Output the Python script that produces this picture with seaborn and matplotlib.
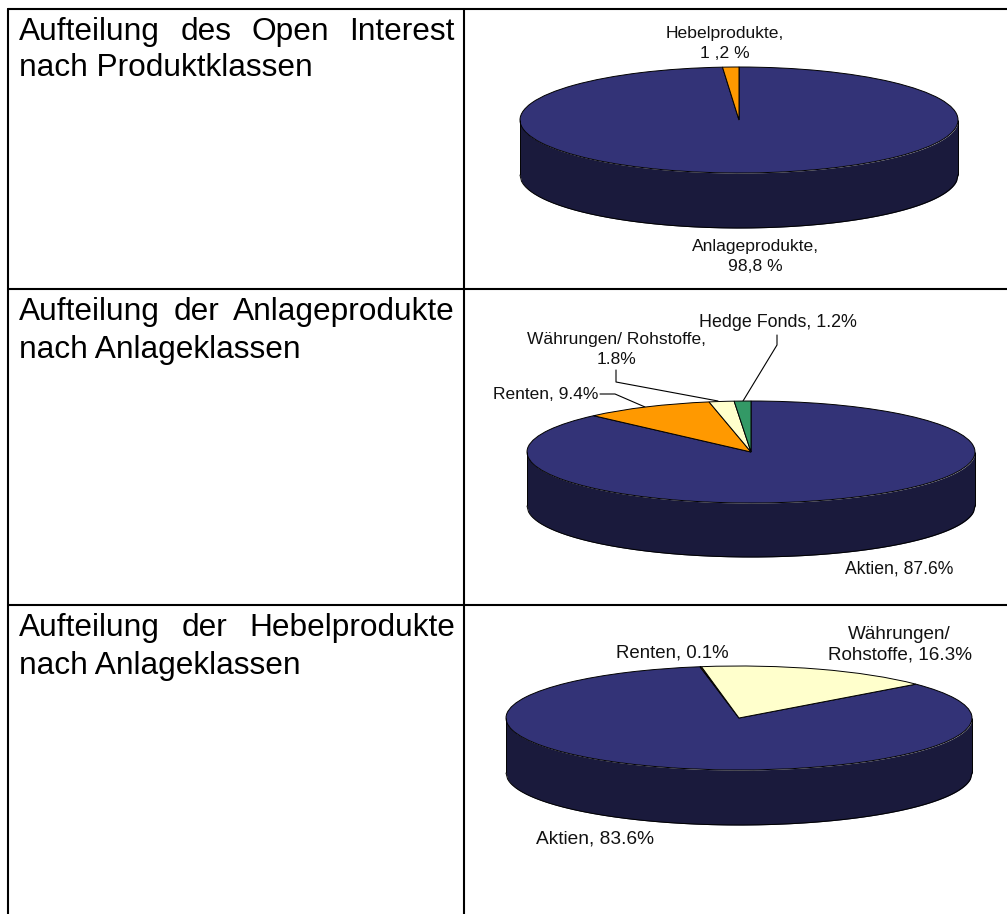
import numpy as np
import matplotlib
matplotlib.use("Agg")
import matplotlib.pyplot as plt
import seaborn as sns

sns.set_theme(style="white")
plt.rcParams['font.family'] = ['Liberation Sans', 'DejaVu Sans']

# data
labels_1 = ["Anlageprodukte", "Hebelprodukte"]
values_1 = [98.8, 1.2]
labels_2 = ["Aktien", "Renten", "Währungen/ Rohstoffe", "Hedge Fonds"]
values_2 = [87.6, 9.4, 1.8, 1.2]
labels_3 = ["Aktien", "Renten", "Währungen/ Rohstoffe"]
values_3 = [83.6, 0.1, 16.3]

navy = "#333377"
side = "#1a1a3c"
orange = "#ff9900"
cream = "#ffffcc"
green = "#339966"
colors_1 = sns.color_palette([navy, orange])
colors_2 = sns.color_palette([navy, orange, cream, green])
colors_3 = sns.color_palette([navy, orange, cream])

W, H = 1007, 914
fig = plt.figure(figsize=(W / 100, H / 100), dpi=100)
page = fig.add_axes([0, 0, 1, 1])
page.set_xlim(0, W)
page.set_ylim(H, 0)
page.axis("off")

# table grid
page.plot([8, 8], [9, H], color="black", lw=1.5)
page.plot([464, 464], [9, H], color="black", lw=1.5)
for y in [9, 289, 605]:
    page.plot([8, W], [y, y], color="black", lw=1.5)


def justified(words, y, x0=19, x1=455, size=22.8):
    # spread the words over the cell width like the word processor did
    r = fig.canvas.get_renderer()
    items = [page.text(x0, y, w, fontsize=size, color="black", va="baseline") for w in words]
    widths = [t.get_window_extent(r).width for t in items]
    gap = (x1 - x0 - sum(widths)) / (len(words) - 1)
    x = x0
    for t, w in zip(items, widths):
        t.set_x(x)
        x += w + gap


def pie3d(values, colors, cx, cy, rx, ry, depth, start):
    pad = 1.03
    d = depth / ry
    ax = fig.add_axes([(cx - rx * pad) / W, 1 - (cy + ry * pad + depth) / H,
                       2 * rx * pad / W, (2 * ry * pad + depth) / H])
    t = np.linspace(-1, 1, 300)
    low = -np.sqrt(1 - t ** 2)
    ax.fill_between(t, low - d, low, color=side, lw=0)
    ax.plot(t, low - d, color="black", lw=0.7)
    ax.plot([-1, -1], [0, -d], color="black", lw=0.7, solid_capstyle="butt")
    ax.plot([1, 1], [0, -d], color="black", lw=0.7, solid_capstyle="butt")
    ax.pie(values, colors=colors, startangle=90 - start, counterclock=False,
           radius=1, wedgeprops={"edgecolor": "black", "linewidth": 0.7})
    ax.set_aspect("auto")
    ax.set_xlim(-pad, pad)
    ax.set_ylim(-pad - d, pad)
    ax.axis("off")


pie3d(values_1, colors_1, 739, 120, 219, 53, 55, 0)
pie3d(values_2, colors_2, 751, 452, 224, 51, 54, 0)
pie3d(values_3, colors_3, 739, 718, 233, 52, 55, 49.4)

# left column
justified(["Aufteilung", "des", "Open", "Interest"], 40)
page.text(19, 76, "nach Produktklassen", fontsize=22.8, color="black")
justified(["Aufteilung", "der", "Anlageprodukte"], 320)
page.text(19, 358, "nach Anlageklassen", fontsize=22.8, color="black")
justified(["Aufteilung", "der", "Hebelprodukte"], 636)
page.text(19, 674, "nach Anlageklassen", fontsize=22.8, color="black")

# slice labels, anchored on the baseline of the last line
lab = dict(color="#111111", ha="center", va="baseline", linespacing=1.4)
page.text(725, 58, "Hebelprodukte,\n1 ,2 %", fontsize=12.6, **lab)
page.text(755.5, 271, "Anlageprodukte,\n98,8 %", fontsize=12.6, **lab)
page.text(778, 327, "Hedge Fonds, 1.2%", fontsize=12.9, **lab)
page.text(616, 364, "Währungen/ Rohstoffe,\n1.8%", fontsize=12.5, **lab)
page.text(546, 399, "Renten, 9.4%", fontsize=12.5, **lab)
page.text(899.5, 573, "Aktien, 87.6%", fontsize=12.7, **lab)
page.text(672, 658, "Renten, 0.1%", fontsize=13.4, **lab)
page.text(899.5, 660, "Währungen/\nRohstoffe, 16.3%", fontsize=13.6, linespacing=1.3,
          color="#111111", ha="center", va="baseline")
page.text(595, 844, "Aktien, 83.6%", fontsize=13.8, **lab)

# leader lines
page.plot([777, 777, 743], [335, 345, 401], color="black", lw=0.8)
page.plot([616, 616, 718], [370, 382, 401], color="black", lw=0.8)
page.plot([600, 615, 645], [394, 394, 407], color="black", lw=0.8)

fig.savefig("out.png", dpi=100)
